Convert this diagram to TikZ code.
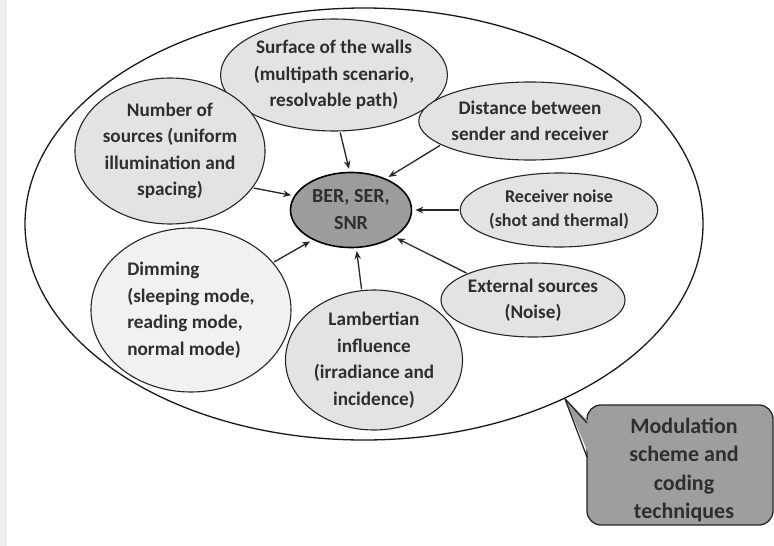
\documentclass[tikz,border=0pt]{standalone}
\usepackage{fontspec}
\setmainfont{Carlito}
\usetikzlibrary{shapes.geometric,arrows.meta}
\definecolor{inkgray}{HTML}{2E2E2E}
\definecolor{paleball}{HTML}{E3E3E3}
\definecolor{lightball}{HTML}{F1F1F1}
\definecolor{coreball}{HTML}{9C9C9C}
\definecolor{notefill}{HTML}{9E9E9E}
\newcommand\corefont{\bfseries\fontsize{20}{27}\selectfont}
\begin{document}
\begin{tikzpicture}[x=1pt,y=-1pt,
  factor/.style={ellipse, draw=black!85, line width=1.1pt, fill=paleball,
    inner sep=0pt, align=center, text=inkgray,
    font=\bfseries\fontsize{19.2}{26.5}\selectfont},
  core/.style={ellipse, draw=black, line width=1.6pt, fill=coreball,
    inner sep=0pt, align=center, text=inkgray, font=\corefont},
  influence/.style={draw=black!85, line width=1.3pt,
    -{Stealth[length=8pt,width=6.5pt]}, shorten >=3pt, shorten <=1pt},
  notebox/.style={rectangle, rounded corners=14pt, draw=black!85,
    line width=1.3pt, fill=notefill, inner sep=0pt},
  notetext/.style={align=center, text=inkgray,
    font=\bfseries\fontsize{22}{28.5}\selectfont}]
\useasboundingbox (0,0) rectangle (774,546);
\fill[white] (0,0) rectangle (774,546);
\fill[black!7] (0,0) rectangle (7,546);

% enclosing scope of the modulation scheme
\node[ellipse, draw=black!90, line width=1.3pt, inner sep=0pt,
  minimum width=678pt, minimum height=432pt] (outer) at (364,224) {};

% central performance metrics
\node[core, minimum width=121pt, minimum height=75pt] (ber) at (351,210)
  {BER, SER,\\SNR};

% influencing factors
\node[factor, minimum width=200pt, minimum height=112pt] (surf) at (334,75)
  {Surface of the walls\\(multipath scenario,\\resolvable path)};
\node[factor, minimum width=168pt, minimum height=146pt] (num) at (170,151)
  {Number of\\sources (uniform\\illumination and\\spacing)};
\node[factor, minimum width=202pt, minimum height=78pt] (dist) at (530,121)
  {Distance between\\sender and receiver};
\node[factor, minimum width=162pt, minimum height=74pt,
  font=\bfseries\fontsize{18}{24}\selectfont] (rec) at (559,210)
  {Receiver noise\\(shot and thermal)};
\node[factor, minimum width=162pt, minimum height=74pt] (ext) at (533,300)
  {External sources\\(Noise)};
\node[factor, minimum width=177pt, minimum height=140pt] (lam) at (374,360)
  {Lambertian\\influence\\(irradiance and\\incidence)};
\node[factor, fill=lightball, minimum width=200pt, minimum height=164pt,
  align=left] (dim) at (191,310)
  {Dimming\\(sleeping mode,\\reading mode,\\normal mode)};

% arrows into the metrics
\draw[influence] (surf.-84) -- (ber.92);
\draw[influence] (dist.195) -- (ber.42);
\draw[influence] (num.-24) -- (ber.166);
\draw[influence] (rec.west) -- (ber.east);
\draw[influence] (dim.30) -- (ber.218);
\draw[influence] (lam.100) -- (ber.-82);
\draw[influence] (ext.158) -- (ber.-32);

% callout with its pointer onto the enclosing ellipse
\coordinate (tip) at (outer.-41);
\node[notebox, minimum width=186pt, minimum height=120pt] (note) at (680,465) {};
\coordinate (wtop) at (587,423);
\coordinate (wbot) at (587,457);
\fill[notefill] (tip) -- ([xshift=3pt]wtop) -- ([xshift=3pt]wbot) -- cycle;
\draw[black!85, line width=1.3pt, line join=round] (wtop) -- (tip) -- (wbot);
\node[notetext] (notelabel) at (684,470)
  {Modulation\\scheme and\\coding\\techniques};
\end{tikzpicture}
\end{document}
